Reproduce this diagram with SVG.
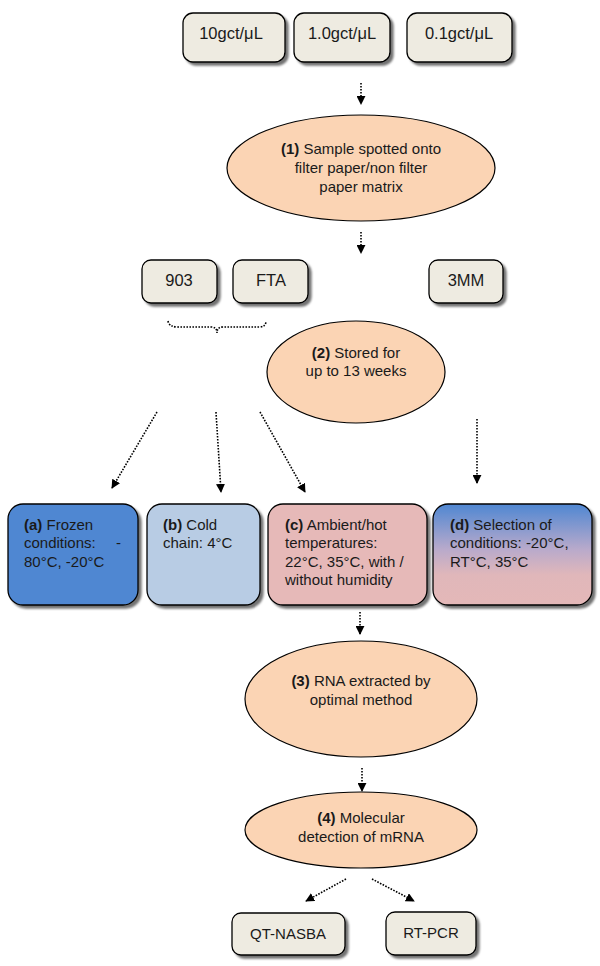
<svg xmlns="http://www.w3.org/2000/svg" width="600" height="966" viewBox="0 0 600 966">
<defs>
<marker id="ah" viewBox="0 0 10 10" refX="9" refY="5" markerWidth="9" markerHeight="9" markerUnits="userSpaceOnUse" orient="auto">
<path d="M0,0 L10,5 L0,10 Z" fill="#000"/>
</marker>
<linearGradient id="gd" x1="0" y1="0" x2="0" y2="1">
<stop offset="0" stop-color="#4F87D2"/>
<stop offset="0.45" stop-color="#B9AACB"/>
<stop offset="0.7" stop-color="#E0B7BA"/>
<stop offset="1" stop-color="#E4B8B8"/>
</linearGradient>
<filter id="sh" x="-10%" y="-10%" width="130%" height="130%">
<feOffset in="SourceAlpha" dx="3" dy="3" result="o"/>
<feGaussianBlur in="o" stdDeviation="1" result="b"/>
<feFlood flood-color="#000" flood-opacity="0.55"/>
<feComposite in2="b" operator="in" result="s"/>
<feMerge><feMergeNode in="s"/><feMergeNode in="SourceGraphic"/></feMerge>
</filter>
</defs>
<style>
text{font-family:"Liberation Sans",Arial,sans-serif;font-size:15px;fill:#1a1a1a;}
.c{text-anchor:middle;}
.b{font-weight:bold;}
.lg{font-size:16.5px;}
.box{fill:#EEEBE1;stroke:#000;stroke-width:1.3;filter:url(#sh);}
.big{stroke:#000;stroke-width:1.3;filter:url(#sh);}
.ell{fill:#FBD4B4;stroke:#000;stroke-width:1.2;}
.con{fill:none;stroke:#000;stroke-width:1.6;stroke-dasharray:1.6 1.4;}
</style>
<rect width="600" height="966" fill="#fff"/>

<g id="connectors">
<line class="con" x1="361" y1="83" x2="361" y2="104" marker-end="url(#ah)"/>
<line class="con" x1="361" y1="232" x2="361" y2="253" marker-end="url(#ah)"/>
<path class="con" d="M168,321 Q169,327 178,327 L211,327 Q217,327 217,333 Q217,327 223,327 L259,327 Q266,327 266,321"/>
<line class="con" x1="157" y1="412" x2="112" y2="488" marker-end="url(#ah)"/>
<line class="con" x1="216" y1="412" x2="221" y2="492" marker-end="url(#ah)"/>
<line class="con" x1="260" y1="412" x2="305" y2="492" marker-end="url(#ah)"/>
<line class="con" x1="477" y1="419" x2="477" y2="483" marker-end="url(#ah)"/>
<line class="con" x1="360" y1="612" x2="360" y2="634" marker-end="url(#ah)"/>
<line class="con" x1="362" y1="768" x2="362" y2="791" marker-end="url(#ah)"/>
<line class="con" x1="346" y1="879" x2="306" y2="901" marker-end="url(#ah)"/>
<line class="con" x1="372" y1="879" x2="414" y2="901" marker-end="url(#ah)"/>
</g>

<g id="n10">
<rect class="box" x="183" y="13" width="102" height="49" rx="10"/>
<text class="c lg" x="231" y="39">10gct/μL</text>
</g>
<g id="n1_0">
<rect class="box" x="294" y="13" width="96" height="49" rx="10"/>
<text class="c lg" x="342" y="39">1.0gct/μL</text>
</g>
<g id="n0_1">
<rect class="box" x="407" y="13" width="105" height="49" rx="10"/>
<text class="c lg" x="459" y="39">0.1gct/μL</text>
</g>

<g id="step1">
<ellipse class="ell" cx="361" cy="168" rx="134" ry="53"/>
<text class="c" x="361" y="153.5"><tspan class="b">(1)</tspan> Sample spotted onto</text>
<text class="c" x="361" y="172.5">filter paper/non filter</text>
<text class="c" x="361" y="191.5">paper matrix</text>
</g>

<g id="n903">
<rect class="box" x="142" y="260" width="75" height="43" rx="9"/>
<text class="c lg" x="179" y="286">903</text>
</g>
<g id="nFTA">
<rect class="box" x="233" y="260" width="75" height="43" rx="9"/>
<text class="c lg" x="271" y="286">FTA</text>
</g>
<g id="n3MM">
<rect class="box" x="429" y="260" width="74" height="43" rx="9"/>
<text class="c lg" x="466" y="286">3MM</text>
</g>

<g id="step2">
<ellipse class="ell" cx="356" cy="372" rx="89" ry="51"/>
<text class="c" x="356" y="357.5"><tspan class="b">(2)</tspan> Stored for</text>
<text class="c" x="356" y="376">up to 13 weeks</text>
</g>

<g id="boxA">
<rect class="big" x="8" y="504" width="130" height="101" rx="15" fill="#4F87D2"/>
<text x="24" y="529.5"><tspan class="b">(a)</tspan> Frozen</text>
<text x="24" y="548">conditions:<tspan x="116">-</tspan></text>
<text x="24" y="566.5">80°C, -20°C</text>
</g>
<g id="boxB">
<rect class="big" x="147" y="504" width="113" height="101" rx="15" fill="#B8CCE4"/>
<text x="163" y="529.5"><tspan class="b">(b)</tspan> Cold</text>
<text x="163" y="548">chain: 4°C</text>
</g>
<g id="boxC">
<rect class="big" x="268" y="504" width="159" height="101" rx="15" fill="#E6B9B8"/>
<text x="285" y="529.5"><tspan class="b">(c)</tspan> Ambient/hot</text>
<text x="285" y="548">temperatures:</text>
<text x="285" y="566.5">22°C, 35°C, with /</text>
<text x="285" y="585">without humidity</text>
</g>
<g id="boxD">
<rect class="big" x="433" y="504" width="159" height="101" rx="15" fill="url(#gd)"/>
<text x="450" y="529.5"><tspan class="b">(d)</tspan> Selection of</text>
<text x="450" y="548">conditions: -20°C,</text>
<text x="450" y="566.5">RT°C, 35°C</text>
</g>

<g id="step3">
<ellipse class="ell" cx="361" cy="699" rx="116" ry="58"/>
<text class="c" x="361" y="686"><tspan class="b">(3)</tspan> RNA extracted by</text>
<text class="c" x="361" y="704.5">optimal method</text>
</g>

<g id="step4">
<ellipse class="ell" cx="361" cy="830" rx="116" ry="38"/>
<text class="c" x="361" y="823"><tspan class="b">(4)</tspan> Molecular</text>
<text class="c" x="361" y="842">detection of mRNA</text>
</g>

<g id="qtnasba">
<rect class="box" x="232" y="913" width="113" height="42" rx="9"/>
<text class="c" x="288" y="938.5">QT-NASBA</text>
</g>
<g id="rtpcr">
<rect class="box" x="386" y="912" width="90" height="43" rx="9"/>
<text class="c" x="431" y="937.5">RT-PCR</text>
</g>
</svg>
